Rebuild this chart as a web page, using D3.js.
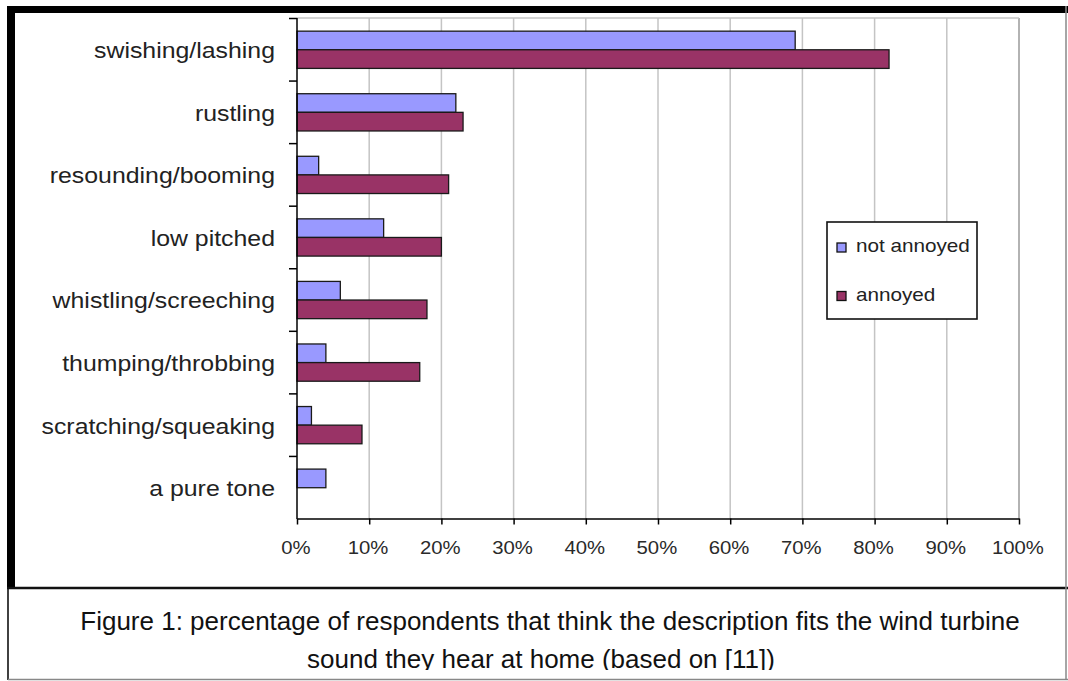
<!DOCTYPE html>
<meta charset="utf-8">
<style>
body { margin: 0; background: #fff; }
svg { display: block; }
text { font-family: "Liberation Sans", Arial, sans-serif; fill: #222; }
.grid line { stroke: #c4c4c4; stroke-width: 1.5; }
.axis path, .axis line { stroke: #000; stroke-width: 1.5; }
.bar { stroke: #1a1a1a; stroke-width: 1.3; }
.caption text { fill: #111; font-size: 26px; }
</style>
<svg width="1068" height="681"></svg>
<script src="https://d3js.org/d3.v7.min.js"></script>
<script>

var categories = ["swishing/lashing", "rustling", "resounding/booming", "low pitched",
                  "whistling/screeching", "thumping/throbbing", "scratching/squeaking", "a pure tone"];
var series = ["not annoyed", "annoyed"];
var notAnnoyed = [69, 22, 3, 12, 6, 4, 2, 4];
var annoyed = [82, 23, 21, 20, 18, 17, 9, 0];
var xTicks = [0, 10, 20, 30, 40, 50, 60, 70, 80, 90, 100];
var colors = ["#9999ff", "#993366"];
var captionLines = ["Figure 1: percentage of respondents that think the description fits the wind turbine",
                    "sound they hear at home (based on [11])"];

var svg = d3.select("svg");

// outer frame
svg.append("rect").attr("x", 7).attr("y", 6).attr("width", 1061).attr("height", 7).attr("fill", "#000");
svg.append("rect").attr("x", 7).attr("y", 6).attr("width", 8).attr("height", 582).attr("fill", "#000");
svg.append("line").attr("x1", 7).attr("x2", 1068).attr("y1", 588).attr("y2", 588)
    .attr("stroke", "#111").attr("stroke-width", 2.5);
svg.append("line").attr("x1", 1066).attr("x2", 1066).attr("y1", 6).attr("y2", 680)
    .attr("stroke", "#888").attr("stroke-width", 1.5);

var plotLeft = 297, plotRight = 1019, plotTop = 18, plotBottom = 518.5;

var x = d3.scaleLinear().domain([0, 100]).range([plotLeft, plotRight]);
var y = d3.scaleBand().domain(categories).range([plotTop, plotBottom]);
var sub = d3.scaleBand().domain(series).range([0, y.bandwidth()]).paddingInner(0).paddingOuter(0.68);

// gridlines
svg.append("g").attr("class", "grid")
  .selectAll("line")
  .data(xTicks.slice(1))
  .enter().append("line")
    .attr("x1", function(d) { return x(d); })
    .attr("x2", function(d) { return x(d); })
    .attr("y1", plotTop)
    .attr("y2", plotBottom)
    .style("stroke", function(d) { return d === 100 ? "#9a9a9a" : null; });
svg.append("line").attr("x1", plotLeft).attr("x2", plotRight).attr("y1", plotTop).attr("y2", plotTop)
    .attr("stroke", "#c4c4c4").attr("stroke-width", 1.5);

// bars
var rows = categories.map(function(c, i) {
  return {cat: c, vals: [{s: series[0], v: notAnnoyed[i]}, {s: series[1], v: annoyed[i]}]};
});

var groups = svg.selectAll(".row")
  .data(rows)
  .enter().append("g")
    .attr("class", "row")
    .attr("transform", function(d) { return "translate(0," + (y(d.cat) + 0.5) + ")"; });

groups.selectAll("rect")
  .data(function(d) { return d.vals.filter(function(e) { return e.v > 0; }); })
  .enter().append("rect")
    .attr("class", "bar")
    .attr("x", x(0))
    .attr("y", function(d) { return sub(d.s); })
    .attr("width", function(d) { return x(d.v) - x(0); })
    .attr("height", sub.bandwidth())
    .attr("fill", function(d) { return colors[series.indexOf(d.s)]; });

// y axis: labels centred on bands, ticks on band edges
var yAxis = svg.append("g")
    .attr("class", "axis")
    .attr("transform", "translate(" + plotLeft + ",0.5)")
    .call(d3.axisLeft(y).tickSize(0).tickPadding(0).tickSizeOuter(0));
yAxis.select(".domain").attr("d", "M0," + (plotTop - 0.5) + "V" + plotBottom);
yAxis.selectAll("text")
    .attr("x", -22 / 1.13)
    .attr("dy", "0.38em")
    .attr("transform", "scale(1.13,1)")
    .style("font-size", "22px");
yAxis.selectAll(".edge")
  .data(categories)
  .enter().append("line")
    .attr("class", "edge")
    .attr("x1", -8).attr("x2", 0)
    .attr("y1", function(d) { return y(d); })
    .attr("y2", function(d) { return y(d); });

// x axis
var xAxis = svg.append("g")
    .attr("class", "axis")
    .attr("transform", "translate(0," + plotBottom + ")")
    .call(d3.axisBottom(x).tickValues(xTicks).tickFormat(function(d) { return d + "%"; })
      .tickSize(6).tickSizeOuter(0));
xAxis.selectAll("text")
    .attr("y", 35.5)
    .attr("dy", 0)
    .attr("x", -1.5)
    .attr("transform", "scale(1.07,1)")
    .style("font-size", "19px")
    .style("fill", "#2a2a2a");

// legend
var legend = svg.append("g").attr("transform", "translate(827,222)");
legend.append("rect").attr("width", 150).attr("height", 97)
    .attr("fill", "#fff").attr("stroke", "#111").attr("stroke-width", 1.6);
var items = legend.selectAll(".item")
  .data(series)
  .enter().append("g")
    .attr("transform", function(d, i) { return "translate(10," + (21 + i * 48.5) + ")"; });
items.append("rect")
    .attr("width", 9).attr("height", 9)
    .attr("fill", function(d, i) { return colors[i]; })
    .attr("stroke", "#111").attr("stroke-width", 1.3);
items.append("text")
    .attr("transform", "translate(19,9) scale(1.15,1)")
    .style("font-size", "18px")
    .text(function(d) { return d; });

// caption box
svg.append("defs").append("clipPath").attr("id", "capclip")
  .append("rect").attr("x", 0).attr("y", 588).attr("width", 1068).attr("height", 82);
svg.append("line").attr("x1", 8).attr("x2", 8).attr("y1", 588).attr("y2", 680)
    .attr("stroke", "#111").attr("stroke-width", 1.6);
svg.append("line").attr("x1", 8).attr("x2", 1068).attr("y1", 679.5).attr("y2", 679.5)
    .attr("stroke", "#888").attr("stroke-width", 1.5);
svg.append("g").attr("class", "caption").attr("clip-path", "url(#capclip)")
  .selectAll("text")
  .data(captionLines)
  .enter().append("text")
    .attr("x", function(d, i) { return i === 0 ? 550 : 541; })
    .attr("y", function(d, i) { return 630 + i * 38; })
    .attr("text-anchor", "middle")
    .text(function(d) { return d; });

</script>
